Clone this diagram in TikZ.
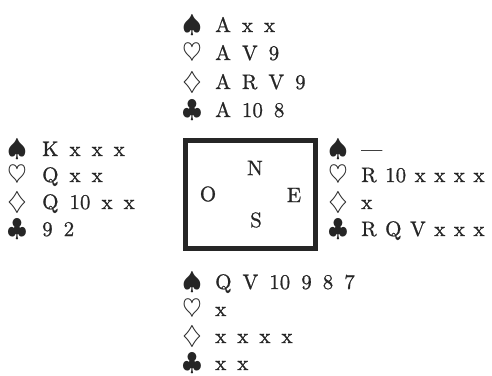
\documentclass[tikz,border=0pt]{standalone}
\usepackage{fontspec}
\usetikzlibrary{positioning}
\newfontfamily\cardfont{lmroman10-regular.otf}[Ligatures=TeX, FakeBold=0.8]
\newcommand\widespace{\spaceskip=11pt plus 0pt minus 0pt\relax}
\newcommand\narrowspace{\spaceskip=8.5pt plus 0pt minus 0pt\relax}
\begin{document}
\begin{tikzpicture}[
    x=1pt, y=-1pt,
    suit/.style  = {inner sep=0pt, text=black!85, font=\fontsize{24.88}{28}\selectfont},
    cards/.style = {inner sep=0pt, anchor=base west, text=black!85,
                    font=\cardfont\fontsize{21}{24}\selectfont,
                    execute at begin node=\widespace},
    tight/.style = {execute at begin node=\narrowspace},
    seat/.style  = {inner sep=0pt, text=black!85, font=\cardfont\fontsize{21}{24}\selectfont},
    table/.style = {draw=black!85, line width=5pt, inner sep=0pt,
                    minimum width=130pt, minimum height=108pt},
  ]
  \useasboundingbox (0,0) rectangle (492,375);

  % North
  \node[suit]  (Nsp)  at (192,25)  {$\spadesuit$};
  \node[suit]  (Nhe)  at (192,53)  {$\heartsuit$};
  \node[suit]  (Ndi)  at (192,82)  {$\diamondsuit$};
  \node[suit]  (Ncl)  at (192,110) {$\clubsuit$};
  \node[cards] (Nspc) at (215,32)  {A x x};
  \node[cards] (Nhec) at (215,60)  {A V 9};
  \node[cards] (Ndic) at (215,89)  {A R V 9};
  \node[cards] (Nclc) at (215,117) {A 10 8};

  % West
  \node[suit]  (Wsp)  at (17,149) {$\spadesuit$};
  \node[suit]  (Whe)  at (17,175) {$\heartsuit$};
  \node[suit]  (Wdi)  at (17,202) {$\diamondsuit$};
  \node[suit]  (Wcl)  at (17,229) {$\clubsuit$};
  \node[cards] (Wspc) at (42,156) {K x x x};
  \node[cards] (Whec) at (42,182) {Q x x};
  \node[cards] (Wdic) at (42,209) {Q 10 x x};
  \node[cards] (Wclc) at (42,236) {9 2};

  % Table
  \node[table] (tab) at (250.5,194.5) {};
  \node[seat] (N) at (255,168) {N};
  \node[seat] (O) at (208,194) {O};
  \node[seat] (E) at (294,195) {E};
  \node[seat] (S) at (256,220) {S};

  % East
  \node[suit]  (Esp)  at (338,149) {$\spadesuit$};
  \node[suit]  (Ehe)  at (338,175) {$\heartsuit$};
  \node[suit]  (Edi)  at (338,202) {$\diamondsuit$};
  \node[suit]  (Ecl)  at (338,229) {$\clubsuit$};
  \node[cards, tight] (Espc) at (361,156) {---};
  \node[cards, tight] (Ehec) at (361,182) {R 10 x x x x};
  \node[cards, tight] (Edic) at (361,209) {x};
  \node[cards, tight] (Eclc) at (361,236) {R Q V x x x};

  % South
  \node[suit]  (Ssp)  at (192,282) {$\spadesuit$};
  \node[suit]  (She)  at (192,309) {$\heartsuit$};
  \node[suit]  (Sdi)  at (192,336) {$\diamondsuit$};
  \node[suit]  (Scl)  at (192,363) {$\clubsuit$};
  \node[cards] (Sspc) at (215,289) {Q V 10 9 8 7};
  \node[cards] (Shec) at (215,316) {x};
  \node[cards] (Sdic) at (215,343) {x x x x};
  \node[cards] (Sclc) at (215,370) {x x};
\end{tikzpicture}
\end{document}
